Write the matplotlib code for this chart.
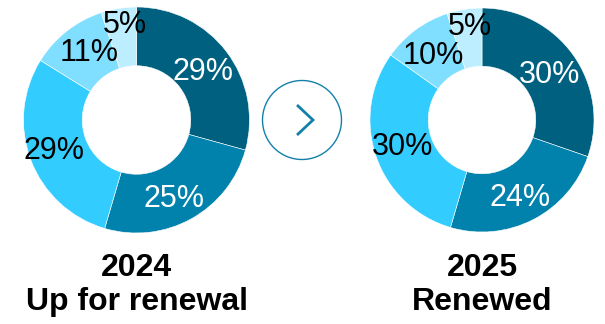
import numpy as np
import matplotlib
matplotlib.use('Agg')
import matplotlib.pyplot as plt

plt.rcParams['font.family'] = ['Liberation Sans', 'DejaVu Sans']

segments = ['A', 'B', 'C', 'D', 'E']
share_2024 = [29, 25, 29, 11, 5]
share_2025 = [30, 24, 30, 10, 5]
titles = [('2024', 'Up for renewal'), ('2025', 'Renewed')]
colors = ['#00607F', '#0082AC', '#33CCFF', '#80DEFF', '#BDEEFF']
text_colors = ['white', 'white', 'black', 'black', 'black']

W, H = 605, 324
fig = plt.figure(figsize=(W / 100, H / 100), dpi=100)


def px_axes(cx, cy, r):
    # axes box in pixel coords (origin top-left)
    return fig.add_axes([(cx - r) / W, (H - cy - r) / H, 2 * r / W, 2 * r / H])


# small per-label nudges (points) to mimic the original label placement
nudges_2024 = [(0, 0), (-2, -2), (-3, 1.5), (3, 3), (1.5, 11)]
nudges_2025 = [(0, 0), (0, -1), (-1, 2), (0.5, 0), (0.5, 10)]


def donut(ax, values, nudges):
    ax.pie(values, colors=colors, startangle=90, counterclock=False,
           radius=1, wedgeprops=dict(width=0.52, edgecolor='white', linewidth=0.4))
    total = sum(values)
    start = 90
    for v, tc, (dx, dy) in zip(values, text_colors, nudges):
        mid = np.deg2rad(start - v / total * 360 / 2)
        start -= v / total * 360
        # -2pt: va='center' includes the descent, digits sit a bit high otherwise
        ax.annotate(f'{v}%', (0.74 * np.cos(mid), 0.74 * np.sin(mid)),
                    xytext=(dx, dy - 2), textcoords='offset points',
                    ha='center', va='center', fontsize=22, color=tc)
    ax.set_xlim(-1, 1)
    ax.set_ylim(-1, 1)
    ax.set_aspect('equal')
    ax.axis('off')


ax1 = px_axes(136.5, 120, 113)
donut(ax1, share_2024, nudges_2024)
ax2 = px_axes(482, 120, 112)
donut(ax2, share_2025, nudges_2025)

# arrow button in the middle
axc = px_axes(302, 120, 42)
axc.set_xlim(-42, 42)
axc.set_ylim(-42, 42)
axc.set_aspect('equal')
axc.axis('off')
axc.add_patch(plt.Circle((0, 0), 39.5, fill=False, edgecolor='#1380A8', linewidth=1.0))
axc.plot([-5, 11, -5], [15, 0, -15], color='#1380A8', linewidth=2.0,
         solid_joinstyle='miter', solid_capstyle='butt')

for cx, (year, label) in zip([136.5, 482], titles):
    fig.text(cx / W, 1 - 268 / H, year, ha='center', va='center',
             fontsize=23, fontweight='bold')
    fig.text(cx / W, 1 - 302 / H, label, ha='center', va='center',
             fontsize=23, fontweight='bold')

fig.savefig('out.png', dpi=100)
